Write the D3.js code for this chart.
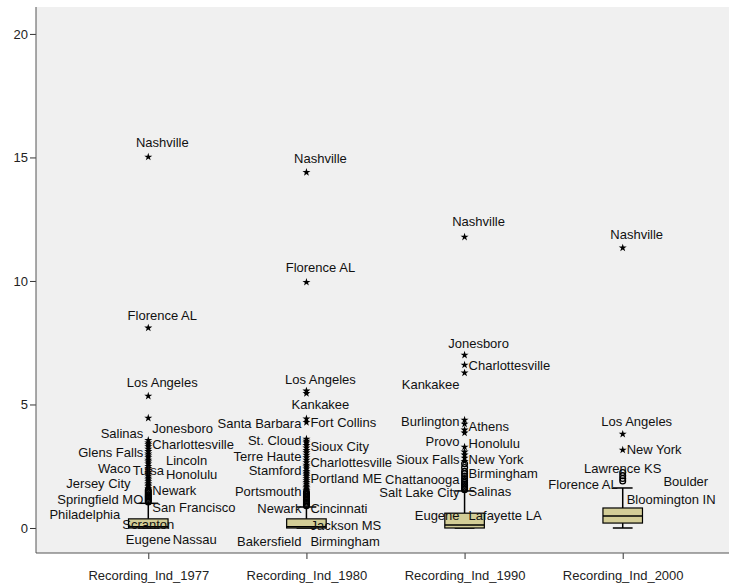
<!DOCTYPE html>
<html>
<head>
<meta charset="utf-8">
<script src="https://cdn.jsdelivr.net/npm/d3@7"></script>
<style>
  html, body { margin: 0; padding: 0; background: #ffffff; }
  svg { display: block; font-family: Arial, "Liberation Sans", sans-serif; }
</style>
</head>
<body>
<div id="chart"></div>
<script>
// Box plot data, one entry per variable
const categories = ["Recording_Ind_1977", "Recording_Ind_1980", "Recording_Ind_1990", "Recording_Ind_2000"];
const whiskerLow = [0, 0, 0, 0];
const quartile1 = [0, 0, 0, 0.2];
const medians = [0.05, 0.05, 0.12, 0.49];
const quartile3 = [0.37, 0.37, 0.6, 0.81];
const whiskerHigh = [1.0, 0.85, 1.5, 1.62];

// extreme cases (stars)
const extremes = [
    [15.02, 8.1, 5.34, 4.45, 3.55, 3.45, 3.38, 3.3, 3.2, 3.1, 3.0, 2.92, 2.85, 2.75, 2.68, 2.6, 2.5,
     2.42, 2.35, 2.25, 2.18, 2.1, 2.02, 1.95, 1.88, 1.8, 1.74, 1.68, 1.6],
    [14.4, 9.95, 5.55, 5.45, 4.42, 4.28, 3.6, 3.52, 3.45, 3.35, 3.25, 3.15, 3.05, 2.95, 2.85, 2.75,
     2.65, 2.55, 2.48, 2.4, 2.3, 2.22, 2.15, 2.08, 2.0, 1.92, 1.85, 1.78, 1.7, 1.64, 1.58, 1.52],
    [11.78, 7.0, 6.6, 6.28, 4.37, 4.21, 3.97, 3.85, 3.28, 3.08, 2.96, 2.83, 2.7],
    [11.34, 3.8, 3.16]
];

// outliers (circles)
const outliers = [
    [1.54, 1.48, 1.42, 1.36, 1.3, 1.25, 1.2, 1.15, 1.1, 1.05],
    [1.46, 1.4, 1.34, 1.28, 1.22, 1.16, 1.1, 1.05, 1.0, 0.95, 0.9],
    [2.6, 2.45, 2.3, 2.2, 2.1, 2.0, 1.92, 1.85, 1.78, 1.72, 1.66, 1.6, 1.55],
    [2.25, 2.12, 2.0, 1.9]
];

// case labels: [name, value, side]  side: t = above, c = centred, l = left, r = right
const caseLabels = [
    [["Nashville", 15.59, "t"], ["Florence AL", 8.62, "t"], ["Los Angeles", 5.91, "t"],
     ["Tulsa", 2.31, "c"], ["Scranton", 0.16, "c"], ["Eugene", -0.45, "c"],
     ["Jonesboro", 4.01, "r"], ["Salinas", 3.81, "l"], ["Charlottesville", 3.40, "r"],
     ["Glens Falls", 3.04, "l"], ["Lincoln", 2.75, "r"], ["Waco", 2.43, "l"],
     ["Honolulu", 2.15, "r"], ["Jersey City", 1.82, "l"], ["Newark", 1.50, "r"],
     ["Springfield MO", 1.17, "l"], ["San Francisco", 0.85, "r"], ["Philadelphia", 0.53, "l"],
     ["Nassau", -0.45, "r"]],
    [["Nashville", 14.94, "t"], ["Florence AL", 10.53, "t"], ["Los Angeles", 6.03, "t"],
     ["Kankakee", 5.02, "t"], ["Santa Barbara", 4.25, "l"], ["Fort Collins", 4.29, "r"],
     ["St. Cloud", 3.56, "l"], ["Sioux City", 3.32, "r"], ["Terre Haute", 2.91, "l"],
     ["Charlottesville", 2.67, "r"], ["Stamford", 2.31, "l"], ["Portland ME", 2.02, "r"],
     ["Portsmouth", 1.46, "l"], ["Newark", 0.81, "l"], ["Cincinnati", 0.81, "r"],
     ["Jackson MS", 0.12, "r"], ["Bakersfield", -0.53, "l"], ["Birmingham", -0.53, "r"]],
    [["Nashville", 12.39, "t"], ["Jonesboro", 7.49, "t"], ["Charlottesville", 6.60, "r"],
     ["Kankakee", 5.83, "l"], ["Burlington", 4.33, "l"], ["Athens", 4.13, "r"],
     ["Provo", 3.52, "l"], ["Honolulu", 3.44, "r"], ["Sioux Falls", 2.79, "l"],
     ["New York", 2.79, "r"], ["Birmingham", 2.19, "r"], ["Chattanooga", 1.98, "l"],
     ["Salt Lake City", 1.42, "l"], ["Salinas", 1.46, "r"], ["Eugene", 0.49, "l"],
     ["Lafayette LA", 0.49, "r"]],
    [["Nashville", 11.90, "t"], ["Los Angeles", 4.33, "t"], ["Lawrence KS", 2.43, "c"],
     ["New York", 3.16, "r"], ["Boulder", 1.90, "r"], ["Florence AL", 1.78, "l"],
     ["Bloomington IN", 1.17, "r"]]
];

const yTicks = [0, 5, 10, 15, 20];

const W = 729, H = 586;
const plot = { left: 36, right: 735, top: 7, bottom: 553 };

const svg = d3.select("#chart").append("svg")
    .attr("width", W)
    .attr("height", H);

svg.append("rect")
    .attr("x", plot.left).attr("y", plot.top)
    .attr("width", plot.right - plot.left)
    .attr("height", plot.bottom - plot.top)
    .attr("fill", "#f0f0f0");

const x = d3.scalePoint()
    .domain(categories)
    .range([plot.left, plot.right])
    .padding(0.71);

const y = d3.scaleLinear()
    .domain([-1.012, 21.09])
    .range([plot.bottom, plot.top]);

const boxW = x.step() * 0.25;

// axes
const yAxis = svg.append("g")
    .attr("transform", `translate(${plot.left},0)`)
    .call(d3.axisLeft(y).tickValues(yTicks).tickSize(6).tickPadding(2).tickSizeOuter(0));
yAxis.select(".domain").remove();
yAxis.selectAll("text").attr("font-size", 13).attr("fill", "#222").attr("font-family", null);
yAxis.selectAll("line").attr("stroke", "#333");

svg.append("line")
    .attr("x1", plot.left).attr("x2", plot.left)
    .attr("y1", plot.top).attr("y2", plot.bottom)
    .attr("stroke", "#555");

const xAxis = svg.append("g")
    .attr("transform", `translate(0,${plot.bottom})`)
    .call(d3.axisBottom(x).tickSize(6).tickPadding(12).tickSizeOuter(0));
xAxis.select(".domain").remove();
xAxis.selectAll("text").attr("font-size", 13).attr("fill", "#222").attr("font-family", null);
xAxis.selectAll("line").attr("stroke", "#333");

svg.append("line")
    .attr("x1", plot.left).attr("x2", W)
    .attr("y1", plot.bottom).attr("y2", plot.bottom)
    .attr("stroke", "#555");

// boxes
const boxes = categories.map((c, i) => ({
    cat: c, lo: whiskerLow[i], q1: quartile1[i], med: medians[i], q3: quartile3[i], hi: whiskerHigh[i]
}));

const g = svg.append("g");

boxes.forEach(b => {
    const cx = x(b.cat);
    g.append("line")
        .attr("x1", cx).attr("x2", cx)
        .attr("y1", y(b.q3)).attr("y2", y(b.hi))
        .attr("stroke", "#000").attr("stroke-width", 1.5);
    g.append("line")
        .attr("x1", cx).attr("x2", cx)
        .attr("y1", y(b.q1)).attr("y2", y(b.lo))
        .attr("stroke", "#000").attr("stroke-width", 1.5);
    [b.hi, b.lo].forEach(v => {
        g.append("line")
            .attr("x1", cx - boxW / 4).attr("x2", cx + boxW / 4)
            .attr("y1", y(v)).attr("y2", y(v))
            .attr("stroke", "#000").attr("stroke-width", 1.5);
    });
    g.append("rect")
        .attr("x", cx - boxW / 2).attr("width", boxW)
        .attr("y", y(b.q3)).attr("height", y(b.q1) - y(b.q3))
        .attr("fill", "#d3cd97").attr("stroke", "#000").attr("stroke-width", 1.2);
    g.append("line")
        .attr("x1", cx - boxW / 2).attr("x2", cx + boxW / 2)
        .attr("y1", y(b.med)).attr("y2", y(b.med))
        .attr("stroke", "#000").attr("stroke-width", 1.5);
});

// outlier circles
outliers.forEach((vals, i) => {
    g.selectAll(null).data(vals).join("path")
        .attr("transform", d => `translate(${x(categories[i])},${y(d)})`)
        .attr("d", d3.symbol(d3.symbolCircle, 26))
        .attr("fill", "none").attr("stroke", "#000").attr("stroke-width", 1.3);
});

// extreme stars
extremes.forEach((vals, i) => {
    g.selectAll(null).data(vals).join("path")
        .attr("transform", d => `translate(${x(categories[i])},${y(d)})`)
        .attr("d", d3.symbol(d3.symbolStar, 20))
        .attr("fill", "#000");
});

// case labels, with simple sideways push to avoid overlaps
const lab = svg.append("g").attr("font-size", 13).attr("fill", "#111");
const lineH = 13.5;

caseLabels.forEach((list, i) => {
    const cx = x(categories[i]);
    const placed = [];
    list.forEach(([name, v, side]) => {
        const t = lab.append("text").attr("dy", "0.35em").attr("y", y(v)).text(name);
        const w = t.node().getComputedTextLength();
        let x0;
        if (side === "t") x0 = cx + 14 - w / 2;
        else if (side === "c") x0 = cx - w / 2;
        else if (side === "l") x0 = cx - 5 - w;
        else x0 = cx + 4;
        let moved = true;
        while (moved) {
            moved = false;
            for (const p of placed) {
                if (Math.abs(p.y - y(v)) < lineH && x0 < p.x1 && x0 + w > p.x0) {
                    if (side === "l") x0 = p.x0 - 2 - w;
                    else x0 = p.x1 + 2;
                    moved = true;
                }
            }
        }
        placed.push({ x0: x0, x1: x0 + w, y: y(v) });
        t.attr("x", x0);
    });
});
</script>
</body>
</html>
